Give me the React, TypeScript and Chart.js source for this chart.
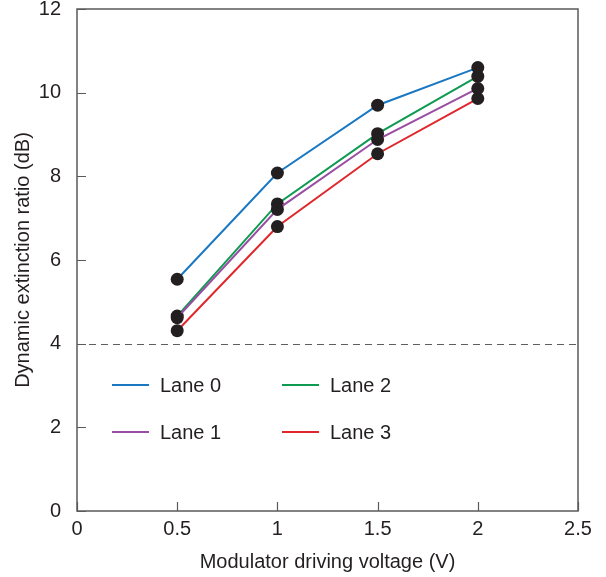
import React, { useEffect, useRef } from "react";
import { Chart, registerables } from "chart.js";

Chart.register(...registerables);

const voltages = [0.5, 1, 1.5, 2];
const lane0 = [5.54, 8.08, 9.7, 10.6];
const lane1 = [4.62, 7.21, 8.88, 10.1];
const lane2 = [4.66, 7.34, 9.02, 10.39];
const lane3 = [4.31, 6.8, 8.54, 9.86];
const laneNames = ["Lane 0", "Lane 1", "Lane 2", "Lane 3"];
const laneColors = ["#1a78c2", "#9a4ea3", "#0f9a52", "#e0262b"];
const thresholdValue = 4;
const xTicks = [0, 0.5, 1, 1.5, 2, 2.5];
const yTicks = [0, 2, 4, 6, 8, 10, 12];

const FONT = "'Liberation Sans', Arial, Helvetica, sans-serif";
const TEXT = "#231f20";
const AXIS = "#5a5a5a";

const framePlugin = {
  id: "frameAndLegend",
  beforeDatasetsDraw(chart: any) {
    const { ctx, chartArea: a, scales } = chart;
    const y = scales.y;
    ctx.save();
    ctx.strokeStyle = "#5f5f5f";
    ctx.lineWidth = 1.2;
    ctx.setLineDash([7, 5]);
    const yy = Math.round(y.getPixelForValue(thresholdValue)) + 0.5;
    ctx.beginPath();
    ctx.moveTo(a.left, yy);
    ctx.lineTo(a.right, yy);
    ctx.stroke();
    ctx.restore();
  },
  afterDraw(chart: any) {
    const { ctx, chartArea: a, scales } = chart;
    ctx.save();
    ctx.strokeStyle = AXIS;
    ctx.lineWidth = 1.5;
    ctx.strokeRect(a.left, a.top, a.right - a.left, a.bottom - a.top);
    ctx.lineWidth = 1.2;
    ctx.beginPath();
    for (const v of yTicks) {
      const p = Math.round(scales.y.getPixelForValue(v)) + 0.5;
      ctx.moveTo(a.left, p);
      ctx.lineTo(a.left + 9, p);
    }
    for (const v of xTicks) {
      const p = Math.round(scales.x.getPixelForValue(v)) + 0.5;
      ctx.moveTo(p, a.bottom);
      ctx.lineTo(p, a.bottom - 9);
    }
    ctx.stroke();

    // legend
    const order = [0, 2, 1, 3];
    const positions = [
      [35, 376],
      [205, 376],
      [35, 423],
      [205, 423],
    ];
    ctx.font = `20px ${FONT}`;
    ctx.textBaseline = "middle";
    ctx.textAlign = "left";
    order.forEach((idx, i) => {
      const [dx, dy] = positions[i];
      const x0 = a.left + dx;
      const y0 = a.top + dy;
      ctx.strokeStyle = laneColors[idx];
      ctx.lineWidth = 2;
      ctx.beginPath();
      ctx.moveTo(x0, y0);
      ctx.lineTo(x0 + 37, y0);
      ctx.stroke();
      ctx.fillStyle = TEXT;
      ctx.fillText(laneNames[idx], x0 + 48, y0 + 1);
    });
    ctx.restore();
  },
};

export default function App() {
  const ref = useRef<HTMLCanvasElement>(null);
  useEffect(() => {
    if (!ref.current) return;
    const lanes = [lane0, lane1, lane2, lane3];
    const chart = new Chart(ref.current, {
      type: "line",
      data: {
        datasets: lanes.map((vals, i) => ({
          label: laneNames[i],
          data: voltages.map((v, j) => ({ x: v, y: vals[j] })),
          borderColor: laneColors[i],
          borderWidth: 2,
          pointRadius: 6.5,
          pointBackgroundColor: "#231f20",
          pointBorderColor: "#231f20",
          pointBorderWidth: 0,
          tension: 0,
        })),
      },
      options: {
        responsive: false,
        animation: false,
        layout: { padding: { top: 9, right: 28, left: 0, bottom: 0 } },
        plugins: { legend: { display: false }, tooltip: { enabled: false } },
        scales: {
          x: {
            type: "linear",
            min: 0,
            max: 2.5,
            afterBuildTicks: (s: any) => {
              s.ticks = xTicks.map((v) => ({ value: v }));
            },
            afterFit: (s: any) => {
              s.height = 66;
              s.paddingLeft = 0;
              s.paddingRight = 0;
            },
            grid: { drawOnChartArea: false, drawTicks: false },
            border: { display: false },
            ticks: {
              color: TEXT,
              font: { family: FONT, size: 20 },
              padding: 6,
              maxRotation: 0,
              callback: (v: any) => String(v),
            },
            title: {
              display: true,
              text: "Modulator driving voltage (V)",
              color: TEXT,
              font: { family: FONT, size: 20 },
              padding: { top: 2, bottom: 3 },
            },
          },
          y: {
            type: "linear",
            min: 0,
            max: 12,
            afterBuildTicks: (s: any) => {
              s.ticks = yTicks.map((v) => ({ value: v }));
            },
            afterFit: (s: any) => {
              s.width = 77;
              s.paddingTop = 0;
              s.paddingBottom = 0;
            },
            grid: { drawOnChartArea: false, drawTicks: false },
            border: { display: false },
            ticks: {
              color: TEXT,
              font: { family: FONT, size: 20 },
              padding: 16,
              callback: (v: any) => String(v),
            },
            title: {
              display: true,
              text: "Dynamic extinction ratio (dB)",
              color: TEXT,
              font: { family: FONT, size: 20 },
              padding: { top: 11, bottom: 0 },
            },
          },
        },
      },
      plugins: [framePlugin],
    });
    return () => chart.destroy();
  }, []);
  return (
    <div style={{ position: "absolute", left: 0, top: 0, width: 606, height: 577, background: "#fff" }}>
      <canvas ref={ref} width={606} height={577} style={{ width: 606, height: 577, display: "block" }} />
    </div>
  );
}
